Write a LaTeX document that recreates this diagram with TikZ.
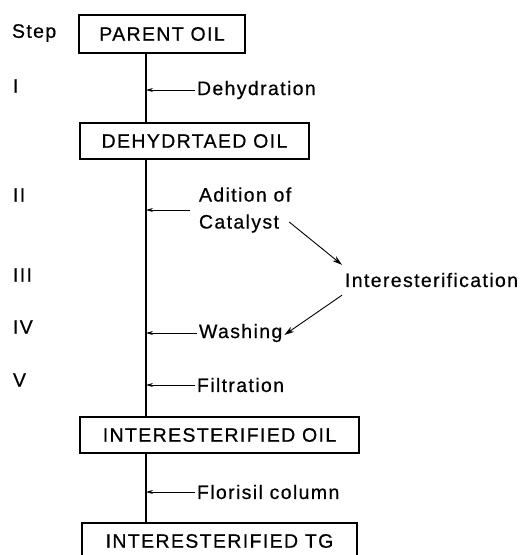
\documentclass[tikz,border=0pt]{standalone}
\usepackage{fontspec}
\setmainfont{Liberation Sans}[LetterSpace=7, FakeBold=0.6]
\usetikzlibrary{arrows.meta}

\begin{document}
\begin{tikzpicture}[x=1pt, y=-1pt, line width=1.1pt,
  every node/.style={font=\fontsize{19.5}{27}\selectfont, inner sep=0pt, outer sep=0pt},
  box/.style={draw, minimum height=36pt},
  lbl/.style={anchor=west},
  feed/.style={-{Stealth[length=7pt,width=4pt]}, line width=0.8pt},
  link/.style={-{Stealth[length=10pt,width=6pt]}, line width=0.9pt}]
\useasboundingbox (0,0) rectangle (520,555);
\clip (0,0) rectangle (520,555);

\node[box, minimum width=166pt, minimum height=38pt] (parent) at (162,34) {PARENT OIL};
\node[box, minimum width=229pt] (dehyd) at (194.5,141) {DEHYDRTAED OIL};
\node[box, minimum width=279pt] (iesoil) at (219.5,435) {INTERESTERIFIED OIL};
\node[box, minimum width=275pt] (iestg) at (219.5,541) {INTERESTERIFIED TG};

\node[lbl] (step) at (12,33) {Step};
\node[lbl] (s1) at (13,86) {I};
\node[lbl] (s2) at (13,195) {II};
\node[lbl] (s3) at (13,275) {III};
\node[lbl] (s4) at (13,327) {IV};
\node[lbl] (s5) at (13,380) {V};

\node[lbl] (dehydration) at (197,90) {Dehydration};
\node[lbl, align=left] (catalyst) at (199,210) {Adition of\\Catalyst};
\node[lbl] (inter) at (345,280) {Interesterification};
\node[lbl] (washing) at (199,333) {Washing};
\node[lbl] (filtration) at (197,385) {Filtration};
\node[lbl] (florisil) at (197,492) {Florisil column};

\coordinate (trunk) at (146,0);
\draw (parent.south -| trunk) -- (dehyd.north -| trunk);
\draw (dehyd.south -| trunk) -- (iesoil.north -| trunk);
\draw (iesoil.south -| trunk) -- (iestg.north -| trunk);

\draw[feed] ([xshift=-2pt]dehydration.west) -- (trunk |- dehydration.west);
\draw[feed] ([xshift=-9pt]catalyst.west) -- (trunk |- catalyst.west);
\draw[feed] ([xshift=-2pt]washing.west) -- (trunk |- washing.west);
\draw[feed] ([xshift=-2pt]filtration.west) -- (trunk |- filtration.west);
\draw[feed] ([xshift=-2pt]florisil.west) -- (trunk |- florisil.west);

\draw[link] ([xshift=-2pt,yshift=-12pt]catalyst.east) -- ([xshift=-3pt,yshift=8pt]inter.north west);
\draw[link] ([xshift=-3pt,yshift=-8pt]inter.south west) -- ([xshift=2pt,yshift=-2pt]washing.east);
\end{tikzpicture}
\end{document}
